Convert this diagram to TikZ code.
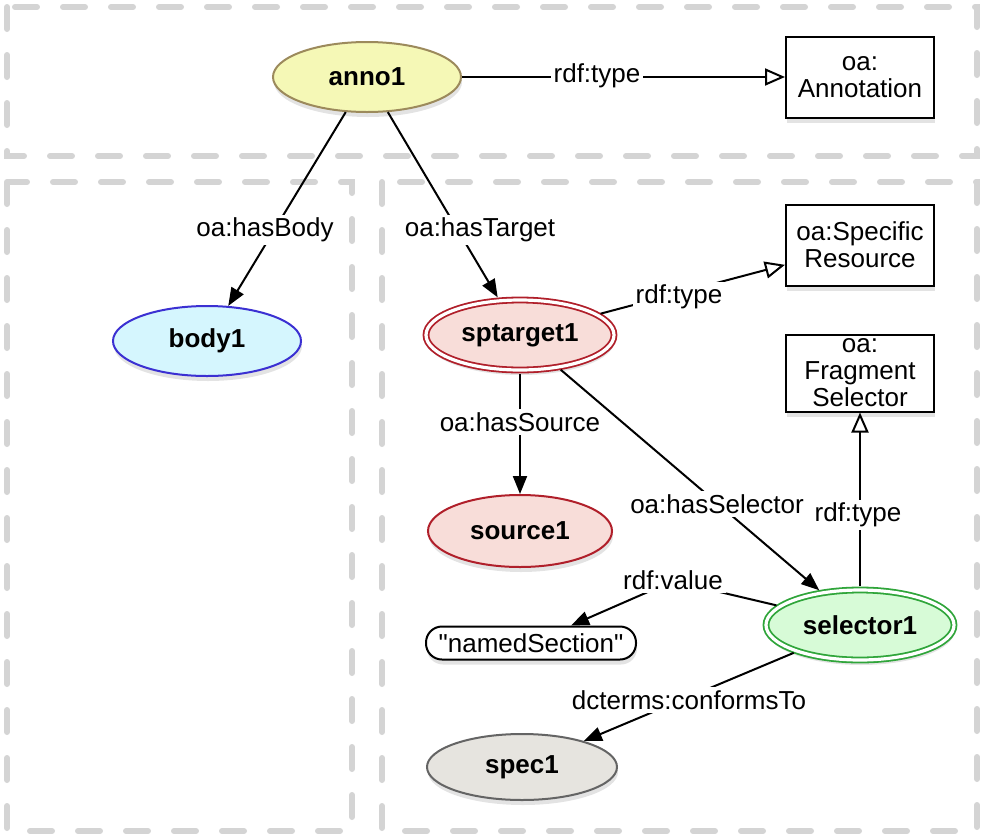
\documentclass[tikz,border=0pt]{standalone}
\usepackage{fontspec}
\setmainfont{Liberation Sans}
\usepackage{tikz}
\usetikzlibrary{shapes.geometric,arrows.meta,shadows}
\definecolor{frame}{HTML}{D4D4D4}
\definecolor{annofill}{HTML}{F5F8B6}
\definecolor{annoline}{HTML}{9C8A5C}
\definecolor{bodyfill}{HTML}{D5F6FE}
\definecolor{bodyline}{HTML}{3B30D2}
\definecolor{tgtfill}{HTML}{F8DDD9}
\definecolor{tgtline}{HTML}{B01F2A}
\definecolor{selfill}{HTML}{D7FBD7}
\definecolor{selline}{HTML}{2FA53A}
\definecolor{specfill}{HTML}{E6E4DF}
\definecolor{specline}{HTML}{646464}
\tikzset{
  region/.style={draw=frame, line width=3pt, line cap=round, dash pattern=on 11pt off 13pt},
  shade/.style={drop shadow={shadow xshift=0.5pt, shadow yshift=-2.5pt, opacity=0.22}},
  res/.style={ellipse, line width=1pt, inner sep=0pt, shade,
    font=\fontsize{13}{13.5}\selectfont\bfseries, minimum width=94pt, minimum height=35pt},
  resdbl/.style={res, double=white, double distance=1.6pt, line width=0.9pt},
  cls/.style={rectangle, draw=black, line width=1pt, fill=white, shade, align=center,
    minimum width=74pt, minimum height=40.5pt, inner xsep=1pt, inner ysep=0pt},
  lit/.style={rectangle, rounded corners=8pt, draw=black, line width=1pt, fill=white, shade,
    minimum width=105pt, minimum height=16.5pt, inner sep=0pt},
  lbl/.style={fill=white, inner sep=1.5pt},
  rel/.style={draw=black, line width=1pt, -{Triangle[length=9pt,width=7pt]}},
  typ/.style={draw=black, line width=1pt, -{Triangle[open,fill=white,length=10pt,width=8.5pt]}}
}

\begin{document}
\begin{tikzpicture}[x=0.5pt, y=-0.5pt, font=\fontsize{13}{13.5}\selectfont]
  \useasboundingbox (0,0) rectangle (986,836);
  % graph regions
  \draw[region] (7,7) rectangle (977,156);
  \draw[region] (7,182) rectangle (352,831);
  \draw[region] (382,182) rectangle (977,831);

  % resources
  \node[res, draw=annoline, fill=annofill] (anno1) at (367,77) {anno1};
  \node[res, draw=bodyline, fill=bodyfill] (body1) at (207,341) {body1};
  \node[resdbl, draw=tgtline, fill=tgtfill] (sptarget1) at (520,335) {sptarget1};
  \node[res, draw=tgtline, fill=tgtfill, minimum width=92pt, minimum height=36pt] (source1) at (520,531) {source1};
  \node[resdbl, draw=selline, fill=selfill] (selector1) at (860,625) {selector1};
  \node[res, draw=specline, fill=specfill, minimum width=95pt, minimum height=33pt] (spec1) at (522,767) {spec1};
  \node[lit] (namedsec) at (531,643) {\textquotedbl namedSection\textquotedbl};

  % classes
  \node[cls] (annoclass) at (860,77) {oa:\\Annotation};
  \node[cls] (spclass) at (860,245) {oa:Specific\\Resource};
  \node[cls, minimum height=38.5pt] (fragclass) at (860,373) {oa:\\Fragment\\Selector};

  \coordinate (valbend) at (673,581);

  % properties
  \draw[typ] (anno1) -- (annoclass);
  \draw[rel] (anno1) -- (body1);
  \draw[rel, shorten >=1.5pt] (anno1) -- (sptarget1);
  \draw[typ, shorten <=1.5pt] (sptarget1) -- (spclass);
  \draw[rel, shorten <=1.5pt] (sptarget1) -- (source1);
  \draw[rel, shorten <=1.5pt, shorten >=1.5pt] (sptarget1) -- (selector1);
  \draw[typ, shorten <=1.5pt] (selector1) -- (fragclass);
  \draw[rel, shorten <=1.5pt] (selector1) -- (valbend) -- (namedsec);
  \draw[rel, shorten <=1.5pt] (selector1) -- (spec1);

  \node[lbl] (ltype1) at (597,76) {rdf:type};
  \node[lbl] (lbody) at (265,230) {oa:hasBody};
  \node[lbl] (ltarget) at (480,230) {oa:hasTarget};
  \node[lbl] (ltype2) at (679,297) {rdf:type};
  \node[lbl] (lsource) at (520,422) {oa:hasSource};
  \node[lbl] (lselector) at (717,504) {oa:hasSelector};
  \node[lbl] (ltype3) at (858,515) {rdf:type};
  \node[lbl] (lvalue) at (673,580) {rdf:value};
  \node[lbl] (lconforms) at (689,700) {dcterms:conformsTo};
\end{tikzpicture}
\end{document}
